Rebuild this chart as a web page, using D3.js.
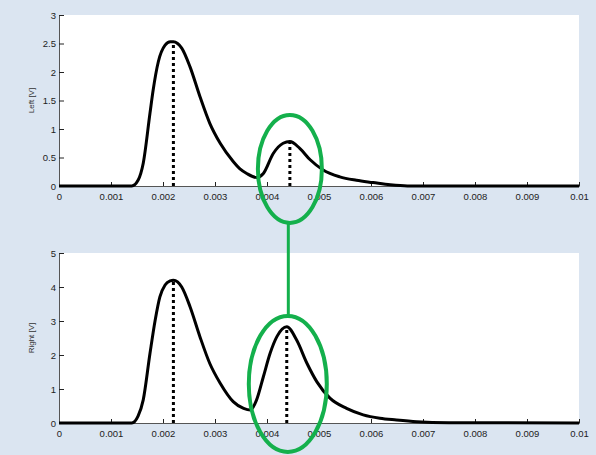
<!DOCTYPE html>
<html>
<head>
<meta charset="utf-8">
<script src="https://cdn.jsdelivr.net/npm/d3@7"></script>
<style>
  body { margin: 0; background: #dbe5f1; }
  svg { display: block; }
  .tick text { font-family: "Liberation Sans", Arial, sans-serif; font-size: 9.5px; fill: #222; }
  .domain { stroke: #555; }
  .tick line { stroke: #222; }
</style>
</head>
<body>
<div id="chart"></div>
<script>
// time axis (seconds)
const xTicks = [0, 0.001, 0.002, 0.003, 0.004, 0.005, 0.006, 0.007, 0.008, 0.009, 0.01];

// Left channel
const leftT = [0, 0.0014, 0.00152, 0.00162, 0.00175, 0.00181, 0.00191, 0.00204, 0.00214, 0.0022, 0.00228, 0.00236, 0.00252, 0.00271, 0.0029, 0.0031, 0.00335, 0.00348, 0.00361, 0.0038, 0.00393, 0.00412, 0.00431, 0.00444, 0.00463, 0.00483, 0.00508, 0.0054, 0.00572, 0.00604, 0.00637, 0.0067, 0.01];
const leftV = [0, 0, 0.1, 0.4, 1.28, 1.68, 2.18, 2.47, 2.53, 2.53, 2.5, 2.42, 2.09, 1.57, 1.1, 0.75, 0.43, 0.3, 0.22, 0.15, 0.22, 0.57, 0.75, 0.78, 0.66, 0.46, 0.28, 0.16, 0.1, 0.06, 0.02, 0, 0];
const leftPeaks = [0.0022, 0.00444];
const leftTicks = [0, 0.5, 1, 1.5, 2, 2.5, 3];

// Right channel
const rightT = [0, 0.0014, 0.00152, 0.00162, 0.00175, 0.00185, 0.00194, 0.00204, 0.00214, 0.0022, 0.00228, 0.00236, 0.00252, 0.00271, 0.0029, 0.0031, 0.00335, 0.00355, 0.00368, 0.0038, 0.00393, 0.00406, 0.00419, 0.00438, 0.00457, 0.00477, 0.00496, 0.00521, 0.00553, 0.00585, 0.00617, 0.00649, 0.00688, 0.0075, 0.01];
const rightV = [0, 0, 0.2, 0.68, 2.05, 3.03, 3.71, 4.06, 4.18, 4.2, 4.15, 4.0, 3.42, 2.54, 1.75, 1.17, 0.63, 0.43, 0.38, 0.68, 1.36, 2.05, 2.54, 2.83, 2.44, 1.75, 1.21, 0.73, 0.43, 0.24, 0.14, 0.09, 0.04, 0.01, 0];
const rightPeaks = [0.0022, 0.00438];
const rightTicks = [0, 1, 2, 3, 4, 5];

const width = 596, height = 455;
const svg = d3.select("#chart").append("svg")
  .attr("width", width)
  .attr("height", height);

const x = d3.scaleLinear().domain([0, 0.01]).range([59, 579]);

function panel(top, bottom, yMax, yTicks, ts, vs, peaks, label) {
  const y = d3.scaleLinear().domain([0, yMax]).range([bottom, top]);

  // white plot area
  svg.append("rect")
    .attr("x", x(0)).attr("y", y(yMax))
    .attr("width", x(0.01) - x(0)).attr("height", y(0) - y(yMax))
    .attr("fill", "#fff");

  // axes
  svg.append("g")
    .attr("transform", `translate(0,${y(0)})`)
    .call(d3.axisBottom(x).tickValues(xTicks).tickSize(-4).tickPadding(7)
      .tickFormat(d => d === 0 ? "0" : d3.format("")(+d.toFixed(3))));

  svg.append("g")
    .attr("transform", `translate(${x(0)},0)`)
    .call(d3.axisLeft(y).tickValues(yTicks).tickSize(-5).tickPadding(3)
      .tickFormat(d => String(d)));

  svg.selectAll(".domain").attr("stroke", "#444");

  // y label
  svg.append("text")
    .attr("transform", `translate(34,${(y(0) + y(yMax)) / 2}) rotate(-90)`)
    .attr("text-anchor", "middle")
    .style("font-family", "Liberation Sans, Arial, sans-serif")
    .style("font-size", "8px")
    .attr("fill", "#333")
    .text(label);

  // peak markers
  svg.selectAll(null)
    .data(peaks)
    .enter()
    .append("line")
    .attr("x1", d => x(d)).attr("x2", d => x(d))
    .attr("y1", y(0))
    .attr("y2", d => y(d3.max(ts.map((t, i) => Math.abs(t - d) < 0.00003 ? vs[i] : 0))))
    .attr("stroke", "#000")
    .attr("stroke-width", 3)
    .attr("stroke-dasharray", "3,3");

  // signal
  const line = d3.line()
    .x((d, i) => x(ts[i]))
    .y(d => y(d))
    .curve(d3.curveMonotoneX);

  svg.append("path")
    .datum(vs)
    .attr("d", line)
    .attr("fill", "none")
    .attr("stroke", "#000")
    .attr("stroke-width", 3)
    .attr("stroke-linejoin", "round");

  return y;
}

const yTop = panel(15, 186, 3, leftTicks, leftT, leftV, leftPeaks, "Left [V]");
const yBot = panel(253, 423, 5, rightTicks, rightT, rightV, rightPeaks, "Right [V]");

// green annotation
const green = "#14b04c";
svg.append("ellipse")
  .attr("cx", x(0.00444)).attr("cy", yTop(0.3))
  .attr("rx", 32).attr("ry", 54)
  .attr("fill", "none").attr("stroke", green).attr("stroke-width", 4);

svg.append("ellipse")
  .attr("cx", x(0.0044)).attr("cy", yBot(1.15))
  .attr("rx", 39).attr("ry", 68)
  .attr("fill", "none").attr("stroke", green).attr("stroke-width", 4);

svg.append("line")
  .attr("x1", x(0.00441)).attr("x2", x(0.00441))
  .attr("y1", yTop(0.3) + 54).attr("y2", yBot(1.15) - 68)
  .attr("stroke", green).attr("stroke-width", 3);
</script>
</body>
</html>
